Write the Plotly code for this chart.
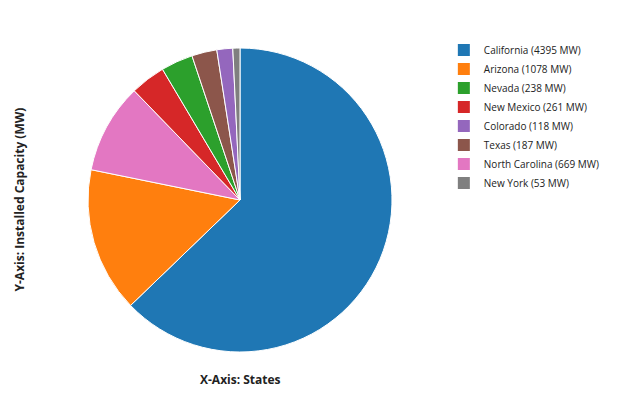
import plotly.graph_objects as go

states = ["California", "Arizona", "Nevada", "New Mexico", "Colorado", "Texas", "North Carolina", "New York"]
capacity_mw = [4395, 1078, 238, 261, 118, 187, 669, 53]
labels = [f"{s} ({v} MW)" for s, v in zip(states, capacity_mw)]

pie_dom = dict(x=[0.125, 0.6], y=[0.14, 0.9])

fig = go.Figure()
# legend-order helper: tiny pie hidden under the main pie centre, keeps legend in data order
fig.add_trace(go.Pie(
    labels=labels,
    values=capacity_mw,
    sort=False,
    textinfo="none",
    hoverinfo="skip",
    marker=dict(line=dict(width=0)),
    domain=dict(x=[0.362, 0.363], y=[0.519, 0.521]),
))
fig.add_trace(go.Pie(
    labels=labels,
    values=capacity_mw,
    sort=True,
    direction="clockwise",
    textinfo="none",
    marker=dict(line=dict(color="white", width=1)),
    domain=pie_dom,
))

fig.update_layout(
    template="none",
    width=640, height=400,
    margin=dict(l=0, r=0, t=0, b=0),
    font=dict(family="Open Sans", size=10, color="#222"),
    paper_bgcolor="white",
    plot_bgcolor="white",
    legend=dict(font=dict(size=10), x=0.681, xanchor="left", y=0.931, yanchor="top"),
    annotations=[
        dict(text="<b>X-Axis: States</b>", x=232 / 640, y=1 - 371 / 400, xref="paper", yref="paper",
             showarrow=False, font=dict(size=12, color="#222"), xanchor="center", yanchor="middle"),
        dict(text="<b>Y-Axis: Installed Capacity (MW)</b>", x=0, y=1 - 192 / 400, xref="paper", yref="paper",
             showarrow=False, textangle=-90, font=dict(size=12, color="#222"), xanchor="left", yanchor="middle"),
    ],
)

fig.write_html("out.html")
